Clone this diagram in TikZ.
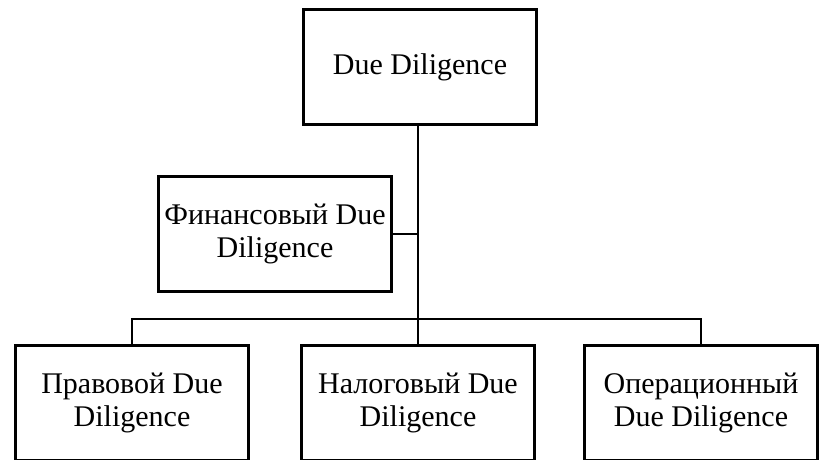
\documentclass[tikz,border=0pt]{standalone}
\usepackage{fontspec}
\setmainfont{Liberation Serif}
\usepackage{tikz}
\usetikzlibrary{positioning}
\tikzset{%
  % Specifications for style of nodes:
      block/.style = {rectangle, draw=black, line width=3pt,
                      minimum width=233pt, minimum height=115pt,
                      align=center, inner sep=2pt,
                      font=\fontsize{30}{33}\selectfont},
  connector/.style = {draw=black, line width=2.8pt},
}

\begin{document}
\begin{tikzpicture}[x=1pt, y=-1pt]
  \clip (0,0) rectangle (819,459);
  \useasboundingbox (0,0) rectangle (819,459);
  % Specification of nodes (position, etc.)
  \node (dd)    [block] at (420,67)  {Due Diligence};
  \node (fin)   [block] at (275,234) {Финансовый Due\\Diligence};
  \node (legal) [block] at (132,403) {Правовой Due\\Diligence};
  \node (tax)   [block] at (418,403) {Налоговый Due\\Diligence};
  \node (oper)  [block] at (701,403) {Операционный\\Due Diligence};
  \coordinate (bar) at (418,319);
  % Specification of lines between nodes specified above
  \draw[connector] (dd.south -| tax.north) -- (tax.north);
  \draw[connector] (fin.east) -- (fin.east -| tax.north);
  \draw[connector] (legal.north) |- (bar) -| (oper.north);
\end{tikzpicture}
\end{document}
